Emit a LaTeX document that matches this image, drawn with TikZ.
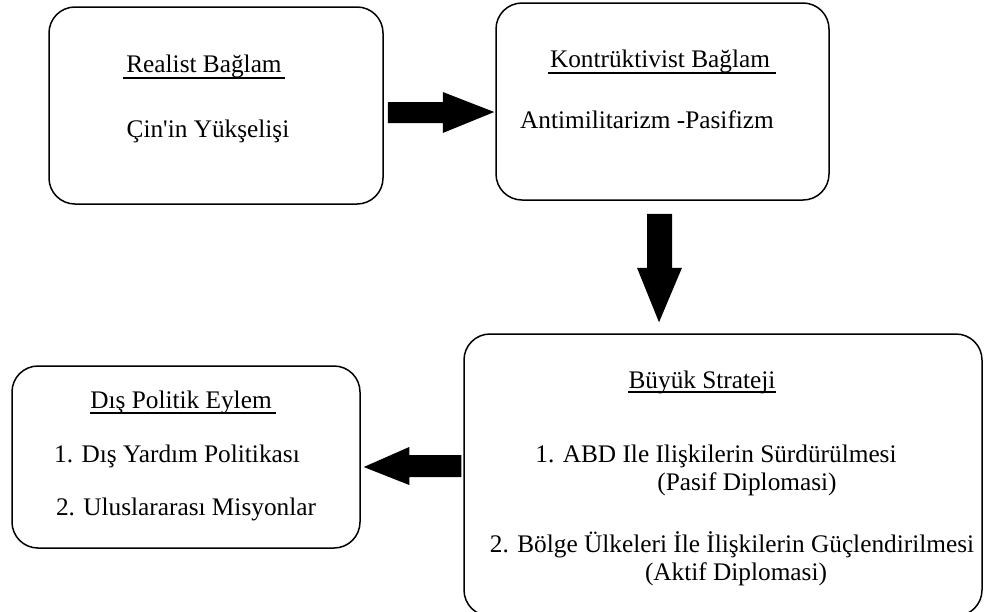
\documentclass[tikz,border=0pt]{standalone}
\usepackage{fontspec}
\newfontfamily\diagfont{Liberation Serif}
\usetikzlibrary{calc}
\tikzset{
  box/.style={draw=black, line width=1.5pt, rounded corners=26pt, inner sep=0pt, fill=white},
  txt/.style={anchor=base, inner sep=0pt, font=\diagfont\fontsize{25.3}{30}\selectfont, text=black},
  uline/.style={line width=1.3pt},
  blockarrow/.style={fill=black}
}
\begin{document}
\begin{tikzpicture}[x=1pt,y=-1pt]
\useasboundingbox (0,0) rectangle (984,611);
\clip (0,0) rectangle (984,611);
\fill[white] (0,0) rectangle (984,611);
% boxes
\node[box, minimum width=334pt, minimum height=197pt] (b1) at (216,105.5) {};
\node[box, minimum width=333pt, minimum height=197pt] (b2) at (662.5,101.5) {};
\node[box, minimum width=518pt, minimum height=282pt] (b3) at (723,475) {};
\node[box, minimum width=348pt, minimum height=182pt] (b4) at (186,457) {};
% texts box1
\node[txt] (t1a) at (204,72) {Realist Bağlam};
\node[txt] (t1b) at (208,137) {Çin'in Yükşelişi};
% texts box2
\node[txt] (t2a) at (660,67) {Kontrüktivist Bağlam};
\node[txt] (t2b) at (647,128) {Antimilitarizm -Pasifizm};
% texts box3
\node[txt] (t3a) at (702,388) {Büyük Strateji};
\node[txt] (t3b) at (716,462) {1. ABD Ile Ilişkilerin Sürdürülmesi};
\node[txt] (t3c) at (747,490) {(Pasif Diplomasi)};
\node[txt] (t3d) at (732,552) {2. Bölge Ülkeleri İle İlişkilerin Güçlendirilmesi};
\node[txt] (t3e) at (736,580) {(Aktif Diplomasi)};
% texts box4
\node[txt] (t4a) at (181,408) {Dış Politik Eylem};
\node[txt] (t4b) at (177,462) {1. Dış Yardım Politikası};
\node[txt] (t4c) at (186,515) {2. Uluslararası Misyonlar};
% underlines
\draw[uline] ($(t1a.base west)+(-3,6)$) -- ($(t1a.base east)+(3,6)$);
\draw[uline] ($(t2a.base west)+(-2,6)$) -- ($(t2a.base east)+(6,6)$);
\draw[uline] ($(t3a.base west)+(0,4)$) -- ($(t3a.base east)+(0,4)$);
\draw[uline] ($(t4a.base west)+(0,5)$) -- ($(t4a.base east)+(4,5)$);
% block arrows (b1 -> b2)
\fill[blockarrow] ($(b1.east)+(4,-3.5)$) -- ($(b1.east)+(59,-3.5)$) -- ($(b1.east)+(59,-13.5)$)
  -- ($(b2.west)+(-1,10.5)$) -- ($(b1.east)+(59,27.5)$) -- ($(b1.east)+(59,17.5)$)
  -- ($(b1.east)+(4,17.5)$) -- cycle;
% b2 -> b3
\fill[blockarrow] ($(b2.south)+(-15.5,13)$) -- ($(b2.south)+(9.5,13)$) -- ($(b2.south)+(9.5,67)$)
  -- ($(b2.south)+(19.5,67)$) -- ($(b3.north)+(-64,-11)$) -- ($(b2.south)+(-25.5,67)$)
  -- ($(b2.south)+(-15.5,67)$) -- cycle;
% b3 -> b4
\fill[blockarrow] ($(b3.west)+(-2,-20)$) -- ($(b3.west)+(-54,-20)$) -- ($(b3.west)+(-54,-28)$)
  -- ($(b4.east)+(3,10)$) -- ($(b3.west)+(-54,10)$) -- ($(b3.west)+(-54,2)$)
  -- ($(b3.west)+(-2,2)$) -- cycle;
\end{tikzpicture}
\end{document}
